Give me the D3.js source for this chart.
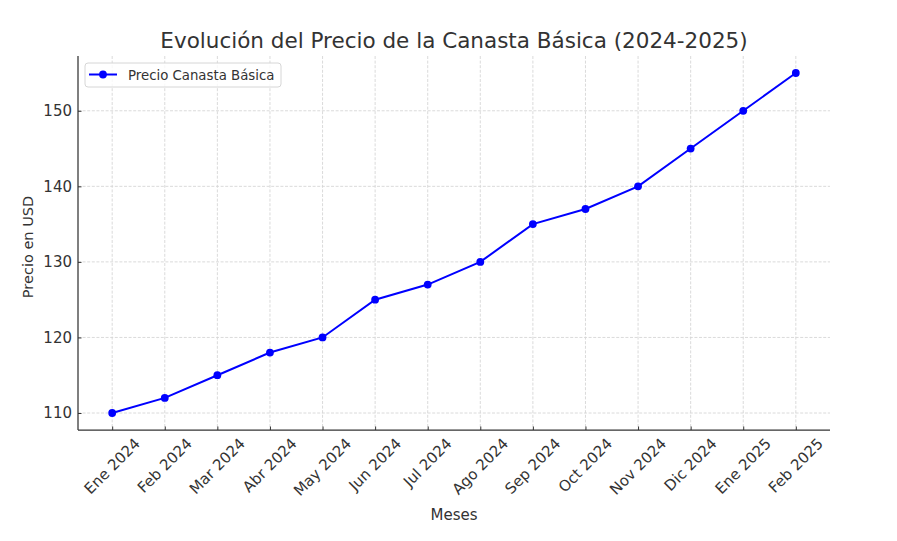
<!DOCTYPE html>
<html>
<head>
<meta charset="utf-8">
<script src="https://cdn.jsdelivr.net/npm/d3@7"></script>
<style>
  body { margin: 0; background: #fff; }
  svg { display: block; font-family: "DejaVu Sans", sans-serif; }
</style>
</head>
<body>
<svg id="chart" width="897" height="541"></svg>
<script>
const months = ["Ene 2024","Feb 2024","Mar 2024","Abr 2024","May 2024","Jun 2024","Jul 2024","Ago 2024","Sep 2024","Oct 2024","Nov 2024","Dic 2024","Ene 2025","Feb 2025"];
const prices = [110,112,115,118,120,125,127,130,135,137,140,145,150,155];
const yTicks = [110,120,130,140,150];
const seriesName = "Precio Canasta Básica";
const titleText = "Evolución del Precio de la Canasta Básica (2024-2025)";
const xLabel = "Meses";
const yLabel = "Precio en USD";

(function () {
const svg = d3.select("#chart");
const pL = 78, pR = 830, pT = 56, pB = 430;
const textColor = "#333";
const fs = 15;

const n = months.length;
const xPad = (n - 1) * 0.05;
const x = d3.scaleLinear().domain([-xPad, n - 1 + xPad]).range([pL, pR]);
const yMin = d3.min(prices), yMax = d3.max(prices);
const yPad = (yMax - yMin) * 0.05;
const y = d3.scaleLinear().domain([yMin - yPad, yMax + yPad]).range([pB, pT]);

// grid
const grid = svg.append("g");
grid.selectAll("line.vx").data(months).join("line")
  .attr("x1", (d, i) => x(i)).attr("x2", (d, i) => x(i))
  .attr("y1", pT).attr("y2", pB)
  .attr("stroke", "#d6d6d6").attr("stroke-width", 0.9).attr("stroke-dasharray", "3,1.6");
grid.selectAll("line.hy").data(yTicks).join("line")
  .attr("x1", pL).attr("x2", pR)
  .attr("y1", d => y(d)).attr("y2", d => y(d))
  .attr("stroke", "#d6d6d6").attr("stroke-width", 0.9).attr("stroke-dasharray", "3,1.6");

// axes
const xAxis = d3.axisBottom(x).tickValues(d3.range(n)).tickSize(-3.5).tickFormat(() => "");
const gx = svg.append("g").attr("transform", `translate(0,${pB})`).call(xAxis);
gx.select(".domain").remove();
gx.selectAll(".tick line").attr("stroke", textColor).attr("stroke-width", 1);

const yAxis = d3.axisLeft(y).tickValues(yTicks).tickSize(-3.5).tickPadding(6);
const gy = svg.append("g").attr("transform", `translate(${pL},0)`).call(yAxis);
gy.select(".domain").remove();
gy.selectAll(".tick line").attr("stroke", textColor).attr("stroke-width", 1);
gy.selectAll(".tick text").attr("font-size", fs).attr("fill", textColor)
  .attr("font-family", "DejaVu Sans").attr("x", -6);

// spines
svg.append("line").attr("x1", pL).attr("x2", pL).attr("y1", pT).attr("y2", pB)
  .attr("stroke", textColor).attr("stroke-width", 1.25);
svg.append("line").attr("x1", pL).attr("x2", pR).attr("y1", pB).attr("y2", pB)
  .attr("stroke", textColor).attr("stroke-width", 1.25);

// rotated x labels (bbox centered on tick)
const xl = svg.append("g");
months.forEach((m, i) => {
  const t = xl.append("text").text(m)
    .attr("font-size", fs).attr("fill", textColor)
    .attr("text-anchor", "middle").attr("dominant-baseline", "central");
  const w = t.node().getComputedTextLength();
  const h = fs * 0.95;
  const bb = (w + h) * Math.SQRT1_2;
  const cx = x(i), cy = pB + 6 + bb / 2;
  t.attr("transform", `translate(${cx},${cy}) rotate(-45)`);
});

// line + markers
const line = d3.line().x((d, i) => x(i)).y(d => y(d));
svg.append("path").datum(prices).attr("d", line)
  .attr("fill", "none").attr("stroke", "#0000ff").attr("stroke-width", 2);
svg.selectAll("circle.pt").data(prices).join("circle")
  .attr("cx", (d, i) => x(i)).attr("cy", d => y(d)).attr("r", 3.9).attr("fill", "#0000ff");

// title & labels
svg.append("text").text(titleText).attr("x", (pL + pR) / 2).attr("y", 48)
  .attr("text-anchor", "middle").attr("font-size", 21.5).attr("fill", textColor);
svg.append("text").text(xLabel).attr("x", (pL + pR) / 2).attr("y", 520)
  .attr("text-anchor", "middle").attr("font-size", fs).attr("fill", textColor);
svg.append("text").text(yLabel)
  .attr("transform", `translate(33,${(pT + pB) / 2 + 4}) rotate(-90)`)
  .attr("text-anchor", "middle").attr("font-size", 14.5).attr("fill", textColor);

// legend
const lg = svg.append("g");
lg.append("rect").attr("x", 85).attr("y", 63).attr("width", 196).attr("height", 24)
  .attr("rx", 3).attr("fill", "#fff").attr("fill-opacity", 0.8)
  .attr("stroke", "#d6d6d6").attr("stroke-width", 1);
lg.append("line").attr("x1", 89).attr("x2", 117).attr("y1", 74.5).attr("y2", 74.5)
  .attr("stroke", "#0000ff").attr("stroke-width", 2);
lg.append("circle").attr("cx", 103).attr("cy", 74.5).attr("r", 3.9).attr("fill", "#0000ff");
lg.append("text").text(seriesName).attr("x", 128).attr("y", 79.5)
  .attr("font-size", 13.3).attr("fill", textColor);
})();
</script>
</body>
</html>
